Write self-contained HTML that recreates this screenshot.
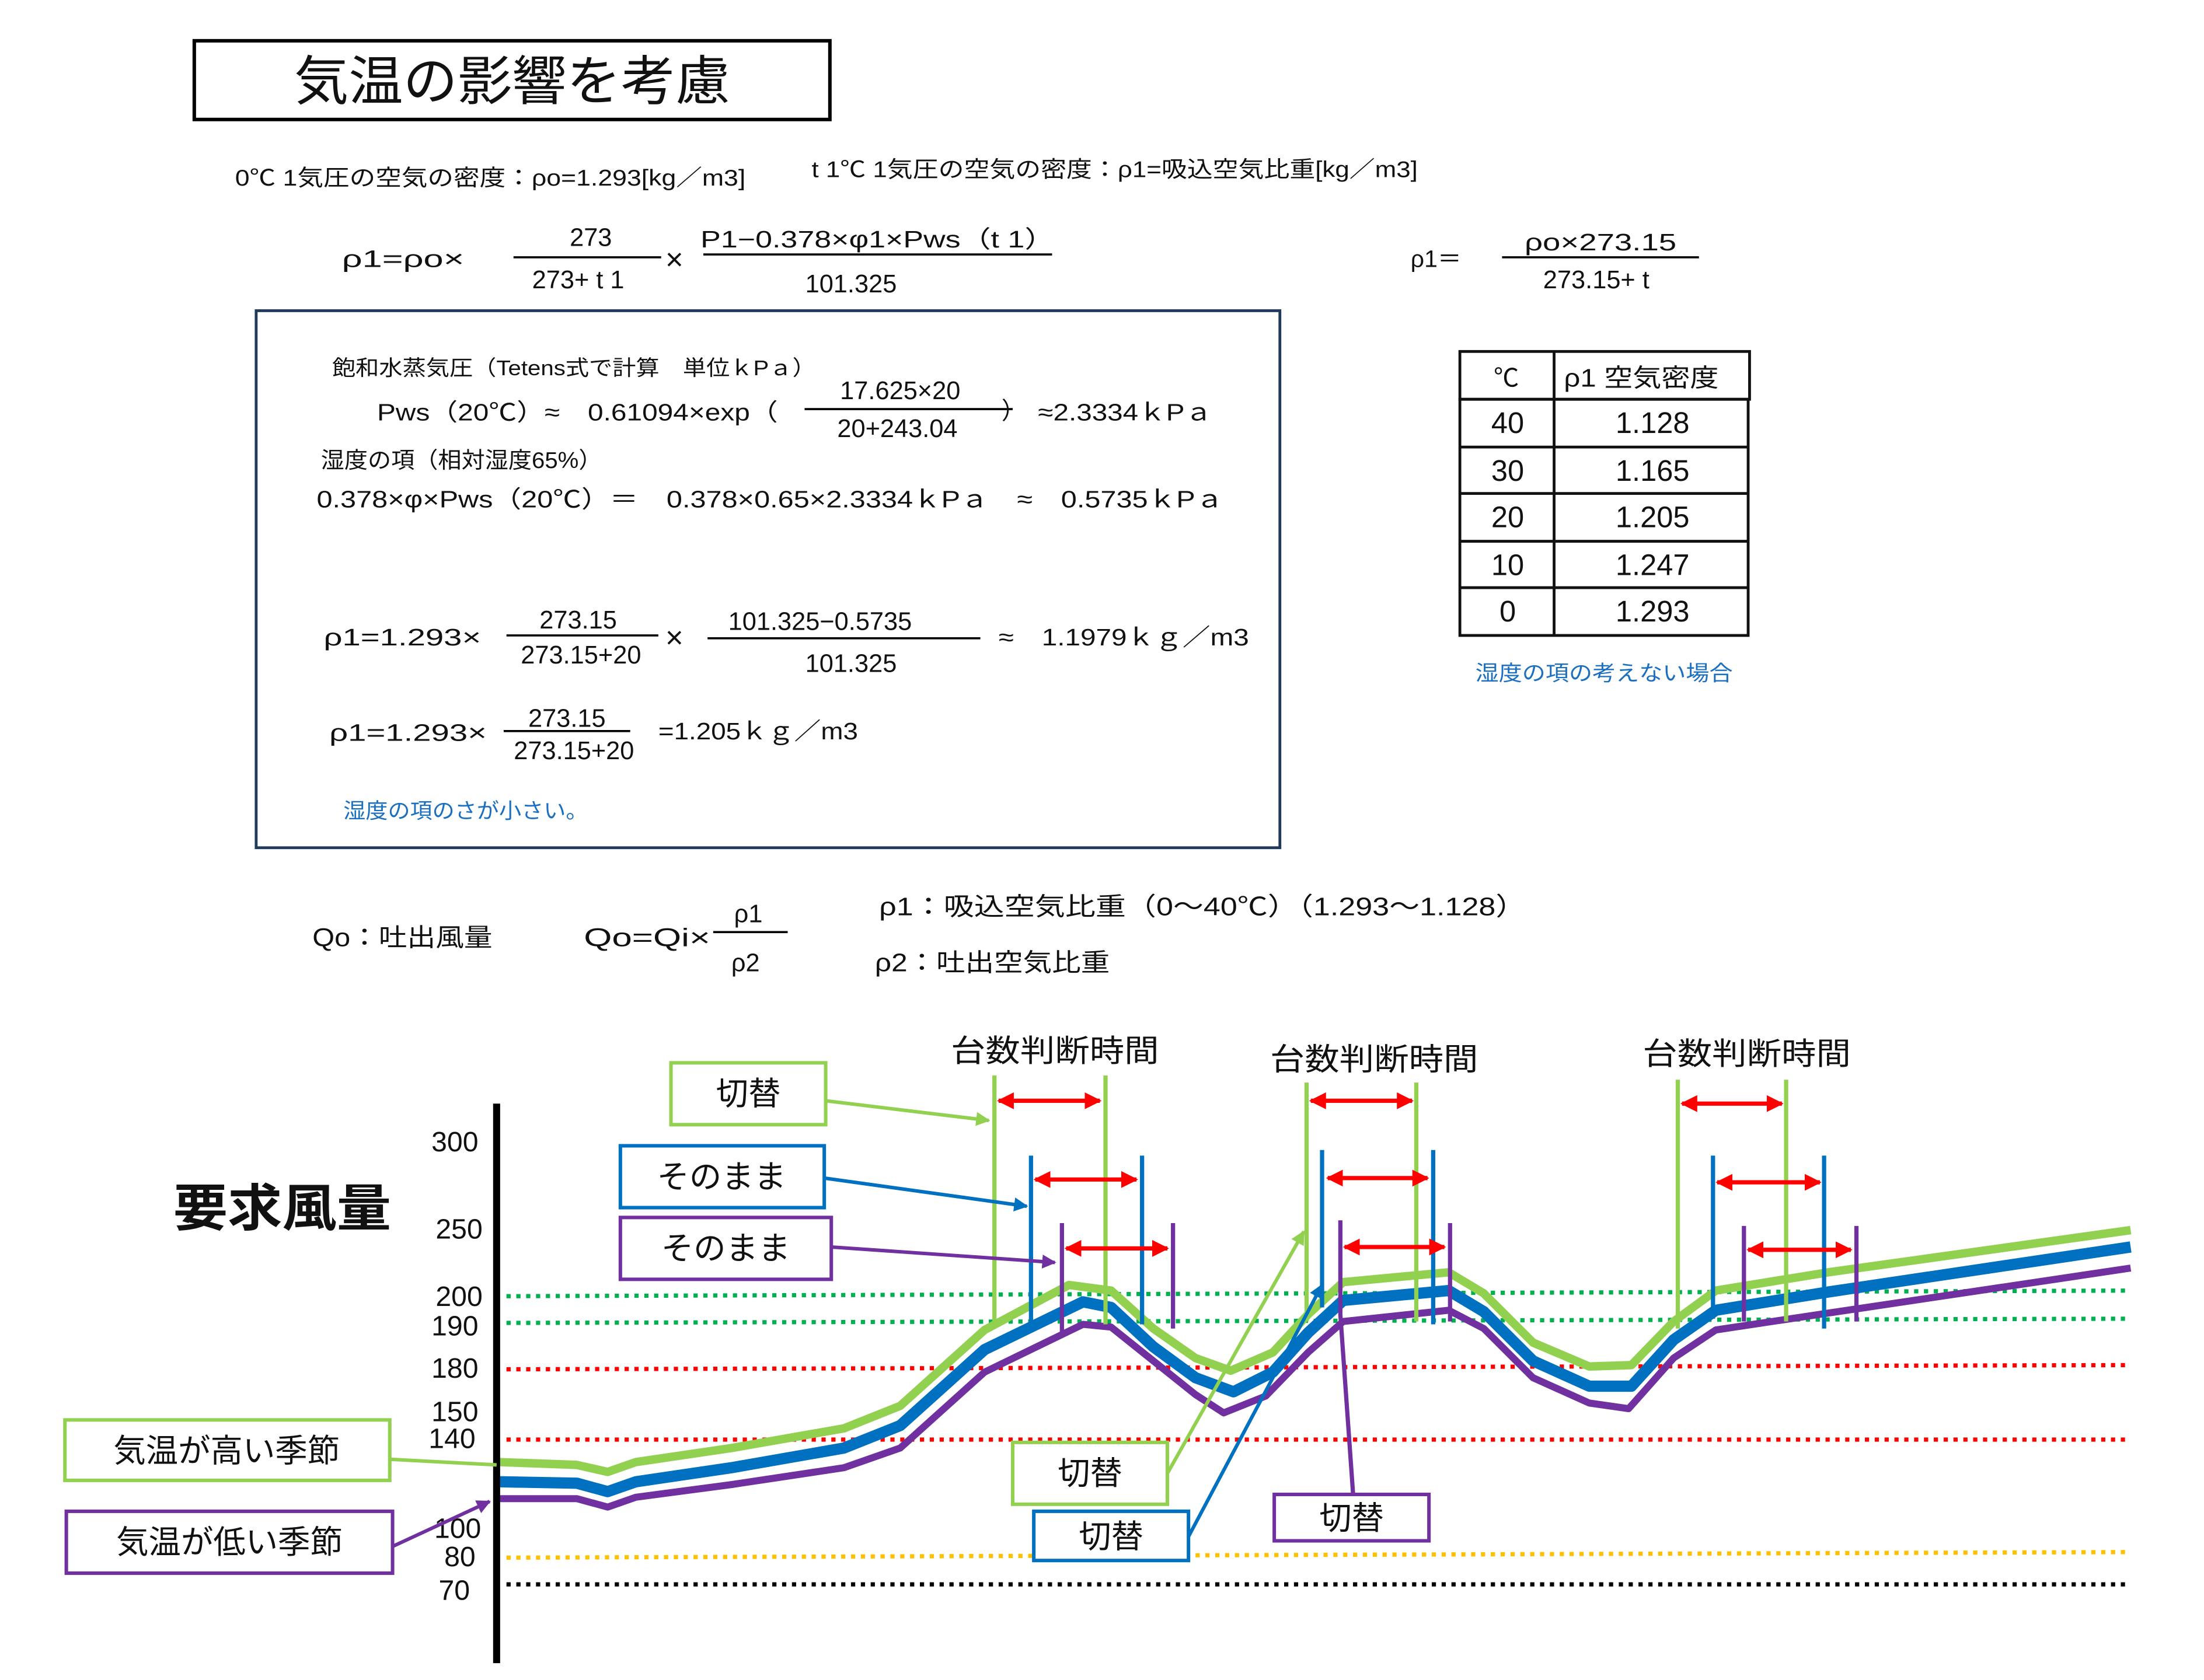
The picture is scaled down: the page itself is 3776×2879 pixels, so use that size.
<!DOCTYPE html>
<html><head><meta charset="utf-8">
<style>
html,body{margin:0;padding:0;background:#fff;}
svg{display:block;}
text{font-family:"Liberation Sans","Noto Sans CJK JP",sans-serif;fill:#111;}
</style></head>
<body>
<svg width="3776" height="2879" viewBox="0 0 1567 1195" xmlns="http://www.w3.org/2000/svg">
<defs>
<marker id="ar" viewBox="0 0 10 10" refX="9" refY="5" markerWidth="4" markerHeight="4" orient="auto-start-reverse"><path d="M0,0 L10,5 L0,10 z" fill="#ff0000"/></marker>
<marker id="ag" viewBox="0 0 10 10" refX="9" refY="5" markerWidth="4" markerHeight="4" orient="auto"><path d="M0,0 L10,5 L0,10 z" fill="#92d050"/></marker>
<marker id="ab" viewBox="0 0 10 10" refX="9" refY="5" markerWidth="4" markerHeight="4" orient="auto"><path d="M0,0 L10,5 L0,10 z" fill="#0070c0"/></marker>
<marker id="ap" viewBox="0 0 10 10" refX="9" refY="5" markerWidth="4" markerHeight="4" orient="auto"><path d="M0,0 L10,5 L0,10 z" fill="#7030a0"/></marker>
</defs>

<rect x="138" y="29" width="452" height="56" fill="none" stroke="#000" stroke-width="2.5"/>
<text x="364" y="71" font-size="38" text-anchor="middle" textLength="310" lengthAdjust="spacingAndGlyphs">気温の影響を考慮</text>

<text x="167" y="132" font-size="16" textLength="363" lengthAdjust="spacingAndGlyphs">0℃ 1気圧の空気の密度：ρo=1.293[kg／m3]</text>
<text x="577" y="126" font-size="16" textLength="431" lengthAdjust="spacingAndGlyphs">t 1℃ 1気圧の空気の密度：ρ1=吸込空気比重[kg／m3]</text>

<text x="243" y="190" font-size="17" textLength="87" lengthAdjust="spacingAndGlyphs">ρ1=ρo×</text>
<text x="420" y="175" font-size="18" text-anchor="middle">273</text>
<line x1="365" y1="183" x2="470" y2="183" stroke="#000" stroke-width="1.5"/>
<text x="411" y="205" font-size="18" text-anchor="middle">273+ t 1</text>
<text x="473" y="192" font-size="22">×</text>
<text x="498" y="176" font-size="17" textLength="252" lengthAdjust="spacingAndGlyphs">P1−0.378×φ1×Pws（t 1）</text>
<line x1="500" y1="181" x2="748" y2="181" stroke="#000" stroke-width="1.5"/>
<text x="605" y="208" font-size="18" text-anchor="middle">101.325</text>

<text x="1003" y="190" font-size="17">ρ1＝</text>
<text x="1138" y="178" font-size="17" text-anchor="middle" textLength="108" lengthAdjust="spacingAndGlyphs">ρo×273.15</text>
<line x1="1068" y1="183" x2="1208" y2="183" stroke="#000" stroke-width="1.5"/>
<text x="1135" y="205" font-size="18" text-anchor="middle">273.15+ t</text>

<rect x="182" y="221" width="728" height="382" fill="none" stroke="#1f3a5a" stroke-width="2"/>
<text x="236" y="267" font-size="15" textLength="344" lengthAdjust="spacingAndGlyphs">飽和水蒸気圧（Tetens式で計算　単位ｋPａ）</text>
<text x="268" y="299" font-size="17" textLength="285" lengthAdjust="spacingAndGlyphs">Pws（20℃）≈　0.61094×exp（</text>
<text x="640" y="284" font-size="18" text-anchor="middle">17.625×20</text>
<line x1="572" y1="291" x2="720" y2="291" stroke="#000" stroke-width="1.5"/>
<text x="638" y="311" font-size="18" text-anchor="middle">20+243.04</text>
<text x="712" y="298" font-size="17">）</text>
<text x="738" y="299" font-size="17" textLength="124" lengthAdjust="spacingAndGlyphs">≈2.3334ｋPａ</text>
<text x="228" y="333" font-size="16" textLength="200" lengthAdjust="spacingAndGlyphs">湿度の項（相対湿度65%）</text>
<text x="225" y="361" font-size="17" textLength="645" lengthAdjust="spacingAndGlyphs">0.378×φ×Pws（20℃）＝　0.378×0.65×2.3334ｋPａ　≈　0.5735ｋPａ</text>

<text x="230" y="459" font-size="17" textLength="112" lengthAdjust="spacingAndGlyphs">ρ1=1.293×</text>
<text x="411" y="447" font-size="18" text-anchor="middle">273.15</text>
<line x1="360" y1="452" x2="468" y2="452" stroke="#000" stroke-width="1.5"/>
<text x="413" y="472" font-size="18" text-anchor="middle">273.15+20</text>
<text x="473" y="461" font-size="22">×</text>
<text x="583" y="448" font-size="18" text-anchor="middle">101.325−0.5735</text>
<line x1="503" y1="454" x2="697" y2="454" stroke="#000" stroke-width="1.5"/>
<text x="605" y="478" font-size="18" text-anchor="middle">101.325</text>
<text x="710" y="459" font-size="17" textLength="178" lengthAdjust="spacingAndGlyphs">≈　1.1979ｋｇ／m3</text>

<text x="234" y="527" font-size="17" textLength="112" lengthAdjust="spacingAndGlyphs">ρ1=1.293×</text>
<text x="403" y="517" font-size="18" text-anchor="middle">273.15</text>
<line x1="358" y1="520" x2="448" y2="520" stroke="#000" stroke-width="1.5"/>
<text x="408" y="540" font-size="18" text-anchor="middle">273.15+20</text>
<text x="468" y="526" font-size="17" textLength="142" lengthAdjust="spacingAndGlyphs">=1.205ｋｇ／m3</text>
<text x="244" y="582" font-size="15" style="fill:#1a6fc0" textLength="174" lengthAdjust="spacingAndGlyphs">湿度の項のさが小さい。</text>

<g stroke="#111" stroke-width="2" fill="none">
<rect x="1038" y="250" width="206" height="34"/>
<line x1="1105" y1="250" x2="1105" y2="452"/>
<rect x="1038" y="284" width="205" height="168"/>
<line x1="1038" y1="318" x2="1243" y2="318"/>
<line x1="1038" y1="351" x2="1243" y2="351"/>
<line x1="1038" y1="385" x2="1243" y2="385"/>
<line x1="1038" y1="418" x2="1243" y2="418"/>
</g>
<text x="1071" y="275" font-size="18" text-anchor="middle">℃</text>
<text x="1112" y="275" font-size="18" textLength="110" lengthAdjust="spacingAndGlyphs">ρ1 空気密度</text>
<g font-size="21" text-anchor="middle">
<text x="1072" y="308">40</text><text x="1175" y="308">1.128</text>
<text x="1072" y="342">30</text><text x="1175" y="342">1.165</text>
<text x="1072" y="375">20</text><text x="1175" y="375">1.205</text>
<text x="1072" y="409">10</text><text x="1175" y="409">1.247</text>
<text x="1072" y="442">0</text><text x="1175" y="442">1.293</text>
</g>
<text x="1049" y="484" font-size="15" style="fill:#1a6fc0" textLength="183" lengthAdjust="spacingAndGlyphs">湿度の項の考えない場合</text>

<text x="222" y="673" font-size="18" textLength="128" lengthAdjust="spacingAndGlyphs">Qo：吐出風量</text>
<text x="415" y="673" font-size="18" textLength="90" lengthAdjust="spacingAndGlyphs">Qo=Qi×</text>
<text x="532" y="656" font-size="18" text-anchor="middle">ρ1</text>
<line x1="507" y1="663" x2="560" y2="663" stroke="#000" stroke-width="1.5"/>
<text x="530" y="691" font-size="18" text-anchor="middle">ρ2</text>
<text x="625" y="651" font-size="18" textLength="460" lengthAdjust="spacingAndGlyphs">ρ1：吸込空気比重（0〜40℃）（1.293〜1.128）</text>
<text x="622" y="691" font-size="18" textLength="167" lengthAdjust="spacingAndGlyphs">ρ2：吐出空気比重</text>

<!-- chart -->
<text x="123" y="872" font-size="36" font-weight="bold" textLength="155" lengthAdjust="spacingAndGlyphs">要求風量</text>
<g font-size="20" text-anchor="end">
<text x="340" y="819">300</text><text x="343" y="881">250</text><text x="343" y="929">200</text>
<text x="340" y="950">190</text><text x="340" y="980">180</text><text x="340" y="1011">150</text>
<text x="338" y="1030">140</text><text x="342" y="1094">100</text><text x="338" y="1114">80</text>
<text x="334" y="1138">70</text>
</g>
<g stroke-width="3" stroke-dasharray="3,4" fill="none">
<line x1="360" y1="922" x2="1515" y2="918" stroke="#00b050"/>
<line x1="360" y1="941" x2="1515" y2="938" stroke="#00b050"/>
<line x1="360" y1="974" x2="1515" y2="971" stroke="#ff0000"/>
<line x1="360" y1="1024" x2="1515" y2="1024" stroke="#ff0000"/>
<line x1="360" y1="1108" x2="1515" y2="1104" stroke="#ffc000"/>
<line x1="360" y1="1127" x2="1515" y2="1127" stroke="#000"/>
</g>

<g fill="none" stroke-linejoin="round">
<path d="M355,1040 L410,1042 L432,1047 L452,1040 L520,1030 L600,1016 L640,1000 L700,946 L760,914 L790,918 L820,945 L850,966 L875,975 L905,962 L930,935 L955,912 L1030,905 L1055,920 L1090,955 L1130,972 L1160,971 L1190,940 L1220,918 L1300,905 L1515,875" stroke="#92d050" stroke-width="6"/>
<path d="M355,1054 L410,1055 L432,1061 L452,1054 L520,1044 L600,1030 L640,1014 L700,960 L770,926 L790,930 L820,958 L850,980 L877,990 L905,976 L930,948 L955,925 L1030,918 L1055,933 L1090,968 L1130,986 L1160,986 L1190,953 L1220,932 L1300,919 L1515,887" stroke="#0070c0" stroke-width="8"/>
<path d="M355,1066 L410,1066 L432,1072 L452,1065 L520,1056 L600,1044 L640,1030 L700,976 L770,942 L790,944 L820,968 L850,992 L870,1005 L900,993 L930,962 L955,940 L1030,932 L1055,945 L1090,980 L1130,998 L1158,1002 L1190,966 L1220,946 L1300,934 L1515,902" stroke="#7030a0" stroke-width="5"/>
</g>

<line x1="353" y1="785" x2="353" y2="1183" stroke="#000" stroke-width="5"/>

<g stroke-width="3">
<line x1="707" y1="765" x2="707" y2="945" stroke="#92d050"/>
<line x1="786" y1="765" x2="786" y2="942" stroke="#92d050"/>
<line x1="733" y1="822" x2="733" y2="940" stroke="#0070c0"/>
<line x1="812" y1="822" x2="812" y2="942" stroke="#0070c0"/>
<line x1="755" y1="870" x2="755" y2="950" stroke="#7030a0"/>
<line x1="834" y1="870" x2="834" y2="945" stroke="#7030a0"/>
<line x1="929" y1="770" x2="929" y2="940" stroke="#92d050"/>
<line x1="1007" y1="770" x2="1007" y2="940" stroke="#92d050"/>
<line x1="940" y1="818" x2="940" y2="930" stroke="#0070c0"/>
<line x1="1019" y1="818" x2="1019" y2="942" stroke="#0070c0"/>
<line x1="1031" y1="870" x2="1031" y2="940" stroke="#7030a0"/>
<line x1="1193" y1="768" x2="1193" y2="945" stroke="#92d050"/>
<line x1="1270" y1="768" x2="1270" y2="940" stroke="#92d050"/>
<line x1="1218" y1="822" x2="1218" y2="938" stroke="#0070c0"/>
<line x1="1297" y1="822" x2="1297" y2="945" stroke="#0070c0"/>
<line x1="1240" y1="872" x2="1240" y2="940" stroke="#7030a0"/>
<line x1="1320" y1="872" x2="1320" y2="940" stroke="#7030a0"/>
<polyline points="953,868 953,935 962,1062" fill="none" stroke="#7030a0"/>
</g>
<g stroke="#ff0000" stroke-width="3" marker-start="url(#ar)" marker-end="url(#ar)">
<line x1="710" y1="783" x2="782" y2="783"/>
<line x1="736" y1="839" x2="808" y2="839"/>
<line x1="758" y1="888" x2="830" y2="888"/>
<line x1="932" y1="783" x2="1004" y2="783"/>
<line x1="944" y1="838" x2="1015" y2="838"/>
<line x1="956" y1="887" x2="1027" y2="887"/>
<line x1="1196" y1="785" x2="1267" y2="785"/>
<line x1="1221" y1="841" x2="1294" y2="841"/>
<line x1="1243" y1="889" x2="1316" y2="889"/>
</g>
<text x="676" y="755" font-size="22" textLength="148" lengthAdjust="spacingAndGlyphs">台数判断時間</text>
<text x="903" y="761" font-size="22" textLength="148" lengthAdjust="spacingAndGlyphs">台数判断時間</text>
<text x="1168" y="757" font-size="22" textLength="148" lengthAdjust="spacingAndGlyphs">台数判断時間</text>

<!-- label boxes -->
<g fill="#fff" stroke-width="2.5">
<rect x="477" y="756" width="110" height="44" stroke="#92d050"/>
<rect x="441" y="815" width="145" height="44" stroke="#0070c0"/>
<rect x="441" y="866" width="150" height="44" stroke="#7030a0"/>
<rect x="46" y="1010" width="231" height="43" stroke="#92d050"/>
<rect x="47" y="1075" width="232" height="44" stroke="#7030a0"/>
<rect x="720" y="1026" width="110" height="44" stroke="#92d050"/>
<rect x="735" y="1075" width="110" height="35" stroke="#0070c0"/>
<rect x="906" y="1063" width="110" height="33" stroke="#7030a0"/>
</g>
<g font-size="23" text-anchor="middle">
<text x="532" y="786">切替</text>
<text x="513" y="845">そのまま</text>
<text x="516" y="896">そのまま</text>
<text x="161" y="1040">気温が高い季節</text>
<text x="163" y="1105">気温が低い季節</text>
<text x="775" y="1056">切替</text>
<text x="790" y="1101">切替</text>
<text x="961" y="1088">切替</text>
</g>
<g stroke-width="2.5" fill="none">
<line x1="587" y1="783" x2="703" y2="797" stroke="#92d050" marker-end="url(#ag)"/>
<line x1="586" y1="838" x2="730" y2="858" stroke="#0070c0" marker-end="url(#ab)"/>
<line x1="591" y1="887" x2="750" y2="898" stroke="#7030a0" marker-end="url(#ap)"/>
<line x1="277" y1="1038" x2="353" y2="1042" stroke="#92d050"/>
<line x1="279" y1="1100" x2="348" y2="1068" stroke="#7030a0" marker-end="url(#ap)"/>
<line x1="830" y1="1048" x2="927" y2="876" stroke="#92d050" marker-end="url(#ag)"/>
<line x1="845" y1="1093" x2="940" y2="914" stroke="#0070c0" marker-end="url(#ab)"/>
</g>
</svg>
</body></html>
